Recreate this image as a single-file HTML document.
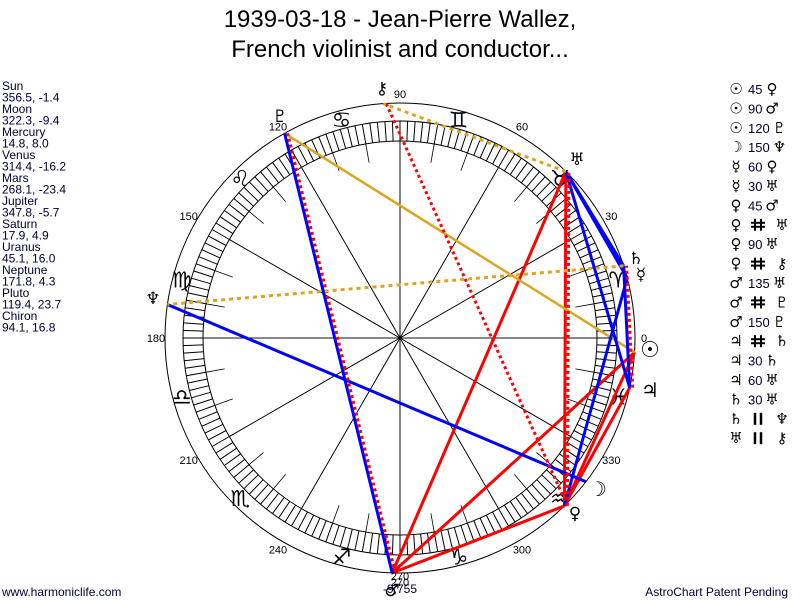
<!DOCTYPE html>
<html><head><meta charset="utf-8"><style>
body{margin:0;background:#fff;width:800px;height:600px;overflow:hidden;font-family:"Liberation Sans","DejaVu Sans",sans-serif}
</style></head><body>
<svg id="s" width="800" height="600" xmlns="http://www.w3.org/2000/svg" style="position:absolute;left:0;top:0">
<text x="400" y="27" text-anchor="middle" font-size="24" fill="#000" font-family="Liberation Sans, sans-serif">1939-03-18 - Jean-Pierre Wallez,</text>
<text x="400" y="57" text-anchor="middle" font-size="24" fill="#000" font-family="Liberation Sans, sans-serif">French violinist and conductor...</text>
<text x="2" y="596" font-size="12" fill="#000033">www.harmoniclife.com</text>
<text x="788" y="596" text-anchor="end" font-size="12" fill="#000033">AstroChart Patent Pending</text>
<g id="g"></g>
</svg>
<script>
var cx=400,cy=338,g=document.getElementById('g'),h='';
function P(a,r){var t=a*Math.PI/180;return [cx+r*Math.cos(t),cy-r*Math.sin(t)];}
function L(a,b,c,w,d){h+='<line x1="'+a[0].toFixed(1)+'" y1="'+a[1].toFixed(1)+'" x2="'+b[0].toFixed(1)+'" y2="'+b[1].toFixed(1)+'" stroke="'+c+'" stroke-width="'+w+'"'+(d?' stroke-dasharray="'+d+'"':'')+'/>';}
function T(x,y,s,fs,an,col,ff){h+='<text x="'+x+'" y="'+y+'" font-size="'+fs+'" text-anchor="'+(an||'middle')+'" fill="'+(col||'#000')+'" font-family="'+(ff||'DejaVu Sans, sans-serif')+'">'+s+'</text>';}
h+='<circle cx="400" cy="338" r="235" fill="none" stroke="#000" stroke-width="1"/>';
h+='<circle cx="400" cy="338" r="217" fill="none" stroke="#000" stroke-width="1"/>';
h+='<circle cx="400" cy="338" r="197" fill="none" stroke="#000" stroke-width="1"/>';
for(var a=0;a<360;a+=2)L(P(a,197),P(a,217),'#000',1);
for(var a=0;a<360;a+=30)L(P(a,197),P(a+180,197),'#000',0.8);
for(var a=0;a<360;a+=10)if(a%30)L(P(a,178),P(a,197),'#000',0.8);
for(var a=0;a<360;a+=30){var p=P(a,244);T(p[0],p[1]+4,a,11,'middle','#000','Liberation Sans, sans-serif');}
var signs=['♈','♉','♊','♋','♌','♍','♎','♏','♐','♑','♒','♓'];
for(var i=0;i<12;i++){var p=P(i*30+15,226);T(p[0],p[1]+8,signs[i]+'\uFE0E',22);}
var pl={Su:356.5,Mo:322.3,Me:14.8,Ve:314.4,Ma:268.1,Ju:347.8,Sa:17.9,Ur:45.1,Ne:171.8,Pl:119.4,Ch:94.1};
function Q(k){return P(pl[k],235);}
var R='#f00',B='#00f',G='#daa520';
[['Su','Ve',R,3],['Su','Ma',R,3],['Ve','Ma',R,3],['Ve','Ur',R,3],['Ma','Ur',R,3],['Ve','Ju',R,3]].forEach(function(e){L(Q(e[0]),Q(e[1]),e[2],e[3]);});
L(Q('Su'),Q('Pl'),G,2.5);
[['Mo','Ne'],['Me','Ve'],['Me','Ur'],['Ma','Pl'],['Ju','Sa'],['Ju','Ur'],['Sa','Ur']].forEach(function(e){L(Q(e[0]),Q(e[1]),B,3);});
[['Ve','Ur'],['Ve','Ch'],['Ma','Pl'],['Ju','Sa']].forEach(function(e){var a=Q(e[0]),b=Q(e[1]);L([a[0]+3,a[1]],[b[0]+3,b[1]],R,3,'3,3');});
L(Q('Sa'),Q('Ne'),G,3,'4,4');L(Q('Ur'),Q('Ch'),G,3,'4,4');
var gl=[['☉',650,357,22],['☽',598,496,20],['☿',641,280,17],['♀',575,519,17],['♂',392,596,17],['♃',650,397,20],['♄',636,264,17],['♅',577,165,17],['♆',153,304,17],['♇',280,122,17],['⚷',382,94,17]];
gl.forEach(function(x){T(x[1],x[2],x[0]+'\uFE0E',x[3]);});
T(400,580,'270',11,'middle','#000','Liberation Sans, sans-serif');
T(400,593,'-9,755',12,'middle','#000033','Liberation Sans, sans-serif');
var left=['Sun','356.5, -1.4','Moon','322.3, -9.4','Mercury','14.8, 8.0','Venus','314.4, -16.2','Mars','268.1, -23.4','Jupiter','347.8, -5.7','Saturn','17.9, 4.9','Uranus','45.1, 16.0','Neptune','171.8, 4.3','Pluto','119.4, 23.7','Chiron','94.1, 16.8'];
left.forEach(function(s,i){T(2,90+i*11.5,s,12,'start','#000033','Liberation Sans, sans-serif');});
var asp=[['☉','45','♀'],['☉','90','♂'],['☉','120','♇'],['☽','150','♆'],['☿','60','♀'],['☿','30','♅'],['♀','45','♂'],['♀','#','♅'],['♀','90','♅'],['♀','#','⚷'],['♂','135','♅'],['♂','#','♇'],['♂','150','♇'],['♃','#','♄'],['♃','30','♄'],['♃','60','♅'],['♄','30','♅'],['♄','||','♆'],['♅','||','⚷']];
asp.forEach(function(a,i){var y=94+i*19.4;T(736,y,a[0]+'\uFE0E',15);var m=a[1];
if(m=='#'){h+='<g stroke="#000" stroke-width="2"><line x1="755" y1="'+(y-11)+'" x2="755" y2="'+(y+1)+'"/><line x1="761" y1="'+(y-11)+'" x2="761" y2="'+(y+1)+'"/><line x1="751" y1="'+(y-7)+'" x2="765" y2="'+(y-7)+'"/><line x1="751" y1="'+(y-3)+'" x2="765" y2="'+(y-3)+'"/></g>';T(782,y,a[2]+'\uFE0E',15);}
else if(m=='||'){h+='<g stroke="#000" stroke-width="2.5"><line x1="755" y1="'+(y-11)+'" x2="755" y2="'+(y+1)+'"/><line x1="761" y1="'+(y-11)+'" x2="761" y2="'+(y+1)+'"/></g>';T(782,y,a[2]+'\uFE0E',15);}
else{T(748,y,m,13,'start','#000033','Liberation Sans, sans-serif');T(748+m.length*7.5+9,y,a[2]+'\uFE0E',15);}});
g.innerHTML=h;
</script>
</body></html>
